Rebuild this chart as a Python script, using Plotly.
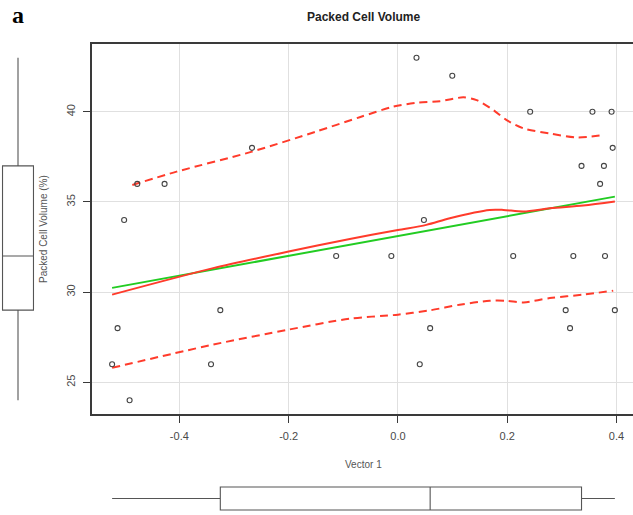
import numpy as np
import plotly.graph_objects as go

# Observations: Vector 1 score vs packed cell volume (%)
vector1 = [-0.477, -0.427, -0.267, -0.501, 0.034, 0.0995, 0.242, 0.356, 0.391, 0.393,
           0.336, 0.377, 0.370, 0.0476, -0.113, -0.513, -0.325, -0.523, -0.342, -0.491,
           -0.012, 0.211, 0.321, 0.379, 0.059, 0.040, 0.307, 0.315, 0.397]
pcv = [36, 36, 38, 34, 43, 42, 40, 40, 40, 38,
       37, 37, 36, 34, 32, 28, 29, 26, 26, 24,
       32, 32, 32, 32, 28, 26, 29, 28, 29]

# Loess smoother (solid) and its spread curves (dashed)
smooth_x = [-0.523, -0.338, -0.2, -0.088, 0.0, 0.052, 0.095, 0.168, 0.193, 0.23, 0.278, 0.339, 0.397]
smooth_y = [29.86, 31.33, 32.25, 32.95, 33.44, 33.73, 34.1, 34.56, 34.56, 34.47, 34.65, 34.8, 35.02]

upper_x = [-0.486, -0.405, -0.267, -0.15, -0.07, -0.009, 0.034, 0.077, 0.12, 0.144,
           0.175, 0.199, 0.23, 0.278, 0.327, 0.377]
upper_y = [35.94, 36.68, 37.79, 38.9, 39.7, 40.28, 40.5, 40.59, 40.8, 40.65,
           40.09, 39.54, 39.08, 38.8, 38.58, 38.71]

lower_x = [-0.523, -0.338, -0.2, -0.088, 0.0, 0.059, 0.113, 0.168, 0.199, 0.23, 0.278, 0.339, 0.394]
lower_y = [25.8, 27.09, 27.92, 28.53, 28.75, 28.99, 29.3, 29.52, 29.52, 29.43, 29.67, 29.86, 30.08]

x_ticks = [-0.4, -0.2, 0.0, 0.2, 0.4]
x_tick_text = ["-0.4", "-0.2", "0.0", "0.2", "0.4"]
y_ticks = [25, 30, 35, 40]

# Least-squares regression line
slope, intercept = np.polyfit(vector1, pcv, 1)
fit_x = np.array([min(vector1), max(vector1)])
fit_y = intercept + slope * fit_x

W, H = 633, 515
FONT = "Liberation Sans, Arial, Helvetica, sans-serif"
RED = "#ff3b2b"
GREEN = "#22cc22"
AXIS = "#3a3a3a"
GRID = "#e0e0e0"
X_RANGE = [-0.5598, 0.4302]
Y_RANGE = [23.24, 43.76]

fig = go.Figure()

fig.add_trace(go.Scatter(x=fit_x, y=fit_y, mode="lines",
                         line=dict(color=GREEN, width=2), hoverinfo="skip"))
fig.add_trace(go.Scatter(x=smooth_x, y=smooth_y, mode="lines",
                         line=dict(color=RED, width=2, shape="spline", smoothing=0.8)))
fig.add_trace(go.Scatter(x=upper_x, y=upper_y, mode="lines",
                         line=dict(color=RED, width=2, dash="8px,5px", shape="spline", smoothing=0.8)))
fig.add_trace(go.Scatter(x=lower_x, y=lower_y, mode="lines",
                         line=dict(color=RED, width=2, dash="8px,5px", shape="spline", smoothing=0.8)))
fig.add_trace(go.Scatter(x=vector1, y=pcv, mode="markers",
                         marker=dict(symbol="circle-open", size=5, color="#444444",
                                     line=dict(width=1.1))))

# Marginal boxplots, each on its own hidden axes sharing the main scales
box_style = dict(boxpoints=False, whiskerwidth=0, fillcolor="white",
                 line=dict(color="#555555", width=1.1), quartilemethod="inclusive",
                 hoverinfo="skip")
fig.add_trace(go.Box(y=pcv, x0=0, xaxis="x3", yaxis="y3", width=0.86, **box_style))
fig.add_trace(go.Box(x=vector1, y0=0, orientation="h", xaxis="x4", yaxis="y4",
                     width=0.85, **box_style))

plot_left = 92 / W
plot_bottom = (H - 414) / H
plot_top = (H - 44) / H

fig.update_layout(
    width=W, height=H,
    margin=dict(l=0, r=0, t=0, b=0),
    paper_bgcolor="white", plot_bgcolor="white",
    showlegend=False,
    font=dict(family=FONT, size=11, color="#4a4a4a"),
    xaxis=dict(domain=[plot_left, 1], range=X_RANGE, anchor="y",
               showgrid=True, gridcolor=GRID, gridwidth=1, zeroline=False,
               showline=True, linecolor=AXIS, linewidth=1.5, mirror=True,
               ticks="outside", ticklen=7, tickcolor=AXIS, tickwidth=1,
               tickvals=x_ticks, ticktext=x_tick_text, ticklabelstandoff=4),
    yaxis=dict(domain=[plot_bottom, plot_top], range=Y_RANGE, anchor="x",
               showgrid=True, gridcolor=GRID, gridwidth=1, zeroline=False,
               showline=True, linecolor=AXIS, linewidth=1.5,
               ticks="outside", ticklen=7, tickcolor=AXIS, tickwidth=1,
               tickvals=y_ticks, tickangle=-90, ticklabelstandoff=4),
    xaxis3=dict(domain=[0, 36 / W], range=[-0.5, 0.5], anchor="y3", visible=False),
    yaxis3=dict(domain=[plot_bottom, plot_top], range=Y_RANGE, anchor="x3", visible=False),
    xaxis4=dict(domain=[plot_left, 1], range=X_RANGE, anchor="y4", visible=False),
    yaxis4=dict(domain=[3 / H, 30 / H], range=[-0.5, 0.5], anchor="x4", visible=False),
    annotations=[
        dict(text="<b>Packed Cell Volume</b>", x=363 / W, y=(H - 17) / H,
             xref="paper", yref="paper", xanchor="center", yanchor="middle",
             showarrow=False, font=dict(family=FONT, size=12, color="#222222")),
        dict(text="<b>a</b>", x=18 / W, y=(H - 15) / H, xref="paper", yref="paper",
             xanchor="center", yanchor="middle", showarrow=False,
             font=dict(family="Liberation Serif, DejaVu Serif, serif", size=24, color="black")),
        dict(text="Vector 1", x=363 / W, y=(H - 464) / H, xref="paper", yref="paper",
             xanchor="center", yanchor="middle", showarrow=False,
             font=dict(family=FONT, size=10, color="#555555")),
        dict(text="Packed Cell Volume (%)", x=43 / W, y=(H - 229) / H,
             xref="paper", yref="paper", xanchor="center", yanchor="middle",
             textangle=-90, showarrow=False,
             font=dict(family=FONT, size=10, color="#555555")),
    ],
)

fig.write_html("out.html")
